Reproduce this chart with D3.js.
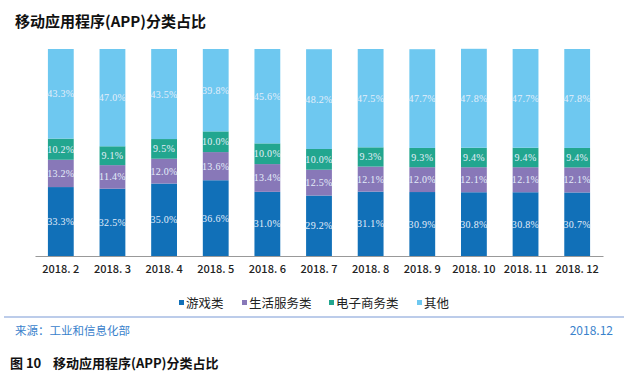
<html>
<head>
  <meta charset="utf-8">
  <script src="https://d3js.org/d3.v7.min.js"></script>
  <style>
    body { margin:0; background:#fff; }
  </style>
  <script>
    var months = ["2018. 2","2018. 3","2018. 4","2018. 5","2018. 6","2018. 7","2018. 8","2018. 9","2018. 10","2018. 11","2018. 12"];
    var seriesNames = ["游戏类","生活服务类","电子商务类","其他"];
    var games    = [33.3, 32.5, 35.0, 36.6, 31.0, 29.2, 31.1, 30.9, 30.8, 30.8, 30.7];
    var life     = [13.2, 11.4, 12.0, 13.6, 13.4, 12.5, 12.1, 12.0, 12.1, 12.1, 12.1];
    var ecommerce= [10.2,  9.1,  9.5, 10.0, 10.0, 10.0,  9.3,  9.3,  9.4,  9.4,  9.4];
    var others   = [43.3, 47.0, 43.5, 39.8, 45.6, 48.2, 47.5, 47.7, 47.8, 47.7, 47.8];
    var colors = ["#1170b8","#8878b8","#22a68f","#6ec8f0"];

    function makeChart() {
        var svg = d3.select("#chart");
        var cjk = "'Noto Sans CJK SC', sans-serif";

        // title
        svg.append("text").attr("x", 15).attr("y", 27)
            .attr("font-family", "'Noto Sans CJK SC'").attr("font-weight", "bold")
            .attr("font-size", 15).attr("fill", "#111")
            .text("移动应用程序(APP)分类占比");

        var rows = months.map(function(m, i) {
            return { month: m, "游戏类": games[i], "生活服务类": life[i], "电子商务类": ecommerce[i], "其他": others[i] };
        });
        var stack = d3.stack().keys(seriesNames)(rows);

        var x = d3.scaleBand().domain(months).range([35, 603]).paddingInner(0.5).paddingOuter(0.25);
        var y = d3.scaleLinear().domain([0, 100]).range([256, 49]);

        var layers = svg.selectAll("g.layer").data(stack).enter()
            .append("g").attr("class", "layer")
            .attr("fill", function(d, i) { return colors[i]; });

        layers.selectAll("rect").data(function(d) { return d; }).enter()
            .append("rect")
            .attr("x", function(d) { return x(d.data.month); })
            .attr("width", x.bandwidth())
            .attr("y", function(d) { return y(d[1]); })
            .attr("height", function(d) { return y(d[0]) - y(d[1]); });

        layers.selectAll("text").data(function(d) { return d; }).enter()
            .append("text")
            .attr("x", function(d) { return x(d.data.month) + x.bandwidth() / 2; })
            .attr("y", function(d) { return (y(d[0]) + y(d[1])) / 2 + 3.5; })
            .attr("text-anchor", "middle")
            .attr("font-family", "'Liberation Serif', serif")
            .attr("font-size", 10).attr("letter-spacing", 0.3).attr("fill", "#e4eefa")
            .text(function(d) { return (d[1] - d[0]).toFixed(1) + "%"; });

        // x axis
        var axis = svg.append("g").attr("transform", "translate(0,256)")
            .call(d3.axisBottom(x).tickSize(0).tickPadding(9));
        axis.select(".domain").attr("stroke", "#999").attr("stroke-width", 1.2);
        axis.selectAll("text").attr("font-family", cjk).attr("font-size", 11)
            .attr("font-weight", 500).attr("fill", "#222");

        // legend
        var legX = [179, 242, 329, 417];
        var leg = svg.selectAll("g.leg").data(seriesNames).enter()
            .append("g").attr("class", "leg")
            .attr("transform", function(d, i) { return "translate(" + legX[i] + ",303)"; });
        leg.append("rect").attr("x", 0).attr("y", -3).attr("width", 5).attr("height", 5)
            .attr("fill", function(d, i) { return colors[i]; });
        leg.append("text").attr("x", 7).attr("y", 4.5)
            .attr("font-family", cjk).attr("font-size", 12.5).attr("fill", "#222")
            .text(function(d) { return d; });

        // footer
        svg.append("line").attr("x1", 4).attr("x2", 624).attr("y1", 317).attr("y2", 317)
            .attr("stroke", "#7a9ad6").attr("stroke-width", 1.2);
        svg.append("text").attr("x", 15).attr("y", 335)
            .attr("font-family", cjk).attr("font-size", 11.5).attr("fill", "#3a82cc")
            .text("来源：工业和信息化部");
        svg.append("text").attr("x", 613).attr("y", 335).attr("text-anchor", "end")
            .attr("font-family", cjk).attr("font-size", 12).attr("fill", "#3a82cc")
            .text("2018.12");
        svg.append("text").attr("x", 10).attr("y", 368)
            .attr("font-family", "'Noto Sans CJK SC'").attr("font-weight", "bold")
            .attr("font-size", 13).attr("fill", "#111")
            .text("图 10");
        svg.append("text").attr("x", 53).attr("y", 368)
            .attr("font-family", "'Noto Sans CJK SC'").attr("font-weight", "bold")
            .attr("font-size", 13).attr("fill", "#111")
            .text("移动应用程序(APP)分类占比");
    }
  </script>
</head>
<body onload="makeChart()">
  <svg id="chart" width="630" height="375"></svg>
</body>
</html>
